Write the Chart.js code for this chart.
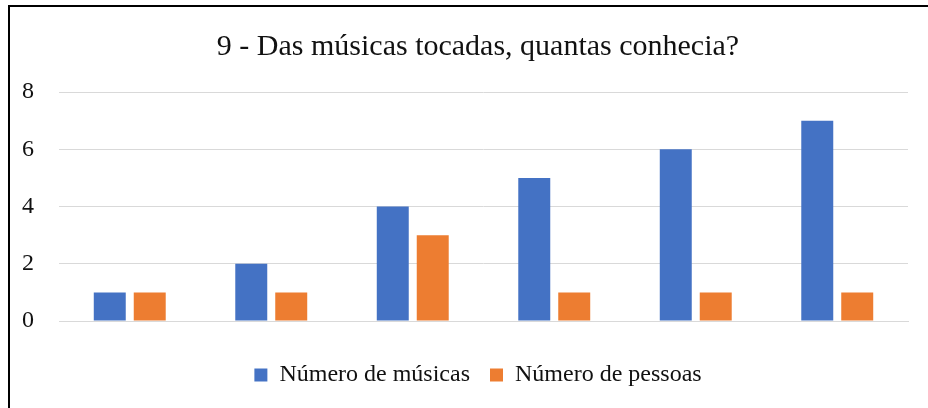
<!DOCTYPE html>
<html>
<head>
<meta charset="utf-8">
<script src="https://cdn.jsdelivr.net/npm/chart.js@4"></script>
<style>
  html, body { margin: 0; padding: 0; background: #fff; overflow: hidden; width: 928px; height: 408px; }
  #frame {
    position: absolute;
    left: 8px;
    top: 5px;
    border-left: 2px solid #000;
    border-top: 2px solid #000;
  }
  canvas { display: block; }
</style>
</head>
<body>
<div id="frame">
  <canvas id="newChart" width="936" height="401"></canvas>
</div>
<script>
// Chart data
const categories = ['1', '2', '3', '4', '5', '6'];
const musicCounts = [1, 2, 4, 5, 6, 7];
const peopleCounts = [1, 1, 3, 1, 1, 1];
const yTicks = [0, 2, 4, 6, 8];

const serif = 'Liberation Serif';
const ctx = document.getElementById('newChart').getContext('2d');

let myChart = new Chart(ctx, {
  type: 'bar',
  data: {
    labels: categories,
    datasets: [
      {
        label: 'Número de músicas',
        backgroundColor: '#4472C4',
        data: musicCounts,
      },
      {
        label: 'Número de pessoas',
        backgroundColor: '#ED7D31',
        data: peopleCounts,
      },
    ],
  },
  options: {
    responsive: false,
    animation: false,
    layout: {
      padding: { left: 12, right: 12, top: 0, bottom: 11 },
    },
    datasets: {
      bar: {
        categoryPercentage: 0.565,
        barPercentage: 0.8,
      },
    },
    scales: {
      x: {
        grid: { display: false, drawTicks: false },
        border: { display: true, color: '#D9D9D9', width: 1 },
        ticks: { display: false },
        afterFit: function (scale) { scale.height = 22; },
      },
      y: {
        min: yTicks[0],
        max: yTicks[yTicks.length - 1],
        ticks: {
          stepSize: yTicks[1] - yTicks[0],
          padding: 25,
          color: '#111',
          font: { family: serif, size: 24 },
        },
        grid: { color: '#D9D9D9', lineWidth: 1, drawTicks: false },
        border: { display: false },
        afterFit: function (scale) { scale.width = 37; },
      },
      // empty space on the right so the title and legend sit where the original has them
      yRight: {
        position: 'right',
        grid: { display: false, drawTicks: false },
        border: { display: false },
        ticks: { display: false },
        afterFit: function (scale) { scale.width = 26; },
      },
    },
    plugins: {
      title: {
        display: true,
        text: '9 - Das músicas tocadas, quantas conhecia?',
        color: '#111',
        font: { family: serif, size: 30, weight: 'normal' },
        padding: { top: 22, bottom: 27 },
      },
      legend: {
        position: 'bottom',
        labels: {
          boxWidth: 13,
          boxHeight: 13,
          padding: 20,
          color: '#111',
          font: { family: serif, size: 24 },
        },
      },
      tooltip: { enabled: false },
    },
  },
});
</script>
</body>
</html>
